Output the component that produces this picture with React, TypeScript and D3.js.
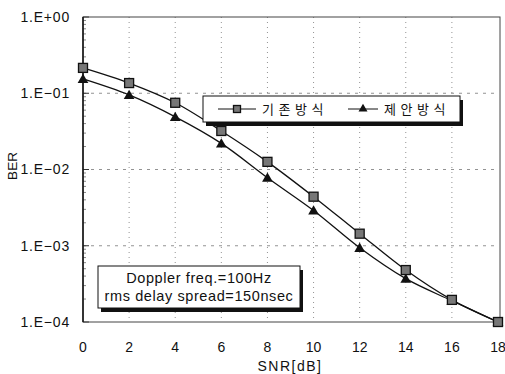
import React, { useEffect, useRef } from "react";
import * as d3 from "d3";

const snr = [0, 2, 4, 6, 8, 10, 12, 14, 16, 18];
const berConventional = [0.215, 0.136, 0.075, 0.032, 0.0126, 0.0044, 0.00144, 0.00048, 0.000195, 0.0001];
const berProposed = [0.154, 0.095, 0.049, 0.022, 0.0078, 0.0029, 0.00094, 0.00037, 0.00019, 0.0001];
const yTicks = [1, 0.1, 0.01, 0.001, 0.0001];
const yTickLabels = ["1.E+00", "1.E\u221201", "1.E\u221202", "1.E\u221203", "1.E\u221204"];
const seriesNames = ["기존방식", "제안방식"];
const noteLines = ["Doppler freq.=100Hz", "rms delay spread=150nsec"];

const App = () => {
  const ref = useRef<SVGSVGElement>(null);

  useEffect(() => {
    const svg = d3.select(ref.current);
    svg.selectAll("*").remove();
    const font = "'Liberation Sans', Arial, sans-serif";
    const kfont = "'Noto Sans CJK KR', sans-serif";

    const left = 83, right = 498, top = 17, bottom = 322;
    const x = d3.scaleLinear().domain([0, 18]).range([left, right]);
    const y = d3.scaleLog().domain([0.0001, 1]).range([bottom, top]);

    // grid
    const g = svg.append("g");
    g.selectAll(".vg")
      .data(snr.slice(1, -1))
      .enter()
      .append("line")
      .attr("x1", (d) => x(d))
      .attr("x2", (d) => x(d))
      .attr("y1", top)
      .attr("y2", bottom)
      .attr("stroke", "#777")
      .attr("stroke-width", 0.8)
      .attr("stroke-dasharray", "1,4");
    g.selectAll(".hg")
      .data(yTicks.slice(1, -1))
      .enter()
      .append("line")
      .attr("x1", left)
      .attr("x2", right)
      .attr("y1", (d) => y(d))
      .attr("y2", (d) => y(d))
      .attr("stroke", "#777")
      .attr("stroke-width", 0.8)
      .attr("stroke-dasharray", "3,5");

    // minor ticks on y axis
    const minors: number[] = [];
    for (let e = -4; e < 0; e++) for (let m = 2; m <= 9; m++) minors.push(m * Math.pow(10, e));
    g.selectAll(".mt")
      .data(minors)
      .enter()
      .append("line")
      .attr("x1", left)
      .attr("x2", left + 3)
      .attr("y1", (d) => y(d))
      .attr("y2", (d) => y(d))
      .attr("stroke", "#555")
      .attr("stroke-width", 0.7);
    g.selectAll(".Mt")
      .data(yTicks)
      .enter()
      .append("line")
      .attr("x1", left)
      .attr("x2", left + 6)
      .attr("y1", (d) => y(d))
      .attr("y2", (d) => y(d))
      .attr("stroke", "#333");

    // frame
    svg.append("rect")
      .attr("x", left)
      .attr("y", top)
      .attr("width", right + 2 - left)
      .attr("height", bottom - top)
      .attr("fill", "none")
      .attr("stroke", "#444")
      .attr("stroke-width", 1);
    svg.append("line")
      .attr("x1", left).attr("x2", left)
      .attr("y1", top).attr("y2", bottom)
      .attr("stroke", "#111").attr("stroke-width", 1.5);

    // tick labels
    svg.selectAll(".yl")
      .data(yTicks)
      .enter()
      .append("text")
      .attr("x", 70)
      .attr("y", (d) => y(d))
      .attr("dy", "0.35em")
      .attr("text-anchor", "end")
      .attr("font-family", font)
      .attr("font-size", 14)
      .attr("letter-spacing", 0.8)
      .attr("fill", "#111")
      .text((d, i) => yTickLabels[i]);
    svg.selectAll(".xl")
      .data(snr)
      .enter()
      .append("text")
      .attr("x", (d) => x(d))
      .attr("y", 347)
      .attr("dy", "0.35em")
      .attr("text-anchor", "middle")
      .attr("font-family", font)
      .attr("font-size", 14)
      .attr("fill", "#111")
      .text((d) => d);
    svg.append("text")
      .attr("x", 290)
      .attr("y", 366)
      .attr("dy", "0.35em")
      .attr("text-anchor", "middle")
      .attr("font-family", font)
      .attr("font-size", 14)
      .attr("letter-spacing", 1.5)
      .attr("fill", "#111")
      .text("SNR[dB]");
    svg.append("text")
      .attr("transform", "translate(12,166)rotate(-90)")
      .attr("dy", "0.35em")
      .attr("text-anchor", "middle")
      .attr("font-family", font)
      .attr("font-size", 13.5)
      .attr("fill", "#111")
      .text("BER");

    // lines
    const line = d3
      .line<number>()
      .x((d, i) => x(snr[i]))
      .y((d) => y(d))
      .curve(d3.curveCatmullRom.alpha(0.5));
    [berConventional, berProposed].forEach((s) => {
      svg.append("path")
        .attr("d", line(s))
        .attr("fill", "none")
        .attr("stroke", "#111")
        .attr("stroke-width", 1.3);
    });

    const tri = d3.symbol().type(d3.symbolTriangle).size(50);
    const drawSquare = (sel: any, cx: number, cy: number, s = 9) =>
      sel.append("rect")
        .attr("x", cx - s / 2)
        .attr("y", cy - s / 2)
        .attr("width", s)
        .attr("height", s)
        .attr("fill", "#777")
        .attr("stroke", "#111")
        .attr("stroke-width", 1.3);
    const drawTri = (sel: any, cx: number, cy: number, sz = 50) =>
      sel.append("path")
        .attr("d", d3.symbol().type(d3.symbolTriangle).size(sz)())
        .attr("transform", `translate(${cx},${cy + 1})`)
        .attr("fill", "#111");

    berProposed.forEach((v, i) => drawTri(svg, x(snr[i]), y(v)));
    berConventional.forEach((v, i) => drawSquare(svg, x(snr[i]), y(v)));

    // legend
    const lg = svg.append("g");
    lg.append("rect").attr("x", 206).attr("y", 100).attr("width", 257).attr("height", 26).attr("fill", "#111");
    lg.append("rect")
      .attr("x", 203).attr("y", 96).attr("width", 257).attr("height", 26)
      .attr("fill", "#fff").attr("stroke", "#111").attr("stroke-width", 1);
    lg.append("line").attr("x1", 218).attr("x2", 256).attr("y1", 109).attr("y2", 109).attr("stroke", "#111").attr("stroke-width", 1);
    drawSquare(lg, 237, 109, 7);
    lg.append("text")
      .attr("x", 262).attr("y", 109).attr("dy", "0.35em")
      .attr("font-family", kfont).attr("font-size", 13).attr("letter-spacing", 4.5).attr("fill", "#111")
      .text(seriesNames[0]);
    lg.append("line").attr("x1", 348).attr("x2", 378).attr("y1", 109).attr("y2", 109).attr("stroke", "#111").attr("stroke-width", 1);
    drawTri(lg, 363, 108, 35);
    lg.append("text")
      .attr("x", 384).attr("y", 109).attr("dy", "0.35em")
      .attr("font-family", kfont).attr("font-size", 13).attr("letter-spacing", 4.5).attr("fill", "#111")
      .text(seriesNames[1]);

    // note box
    const nb = svg.append("g");
    nb.append("rect").attr("x", 101).attr("y", 270).attr("width", 202).attr("height", 42).attr("fill", "#111");
    nb.append("rect")
      .attr("x", 98).attr("y", 266).attr("width", 202).attr("height", 42)
      .attr("fill", "#fff").attr("stroke", "#111").attr("stroke-width", 1);
    nb.selectAll("text")
      .data(noteLines)
      .enter()
      .append("text")
      .attr("x", 199)
      .attr("y", (d, i) => 278 + i * 18)
      .attr("dy", "0.35em")
      .attr("text-anchor", "middle")
      .attr("font-family", font)
      .attr("font-size", 14.5)
      .attr("letter-spacing", 0.6)
      .attr("fill", "#111")
      .text((d) => d);
  }, []);

  return (
    <svg
      ref={ref}
      width={505}
      height={374}
      style={{ position: "absolute", left: 0, top: 0, background: "#fff" }}
    ></svg>
  );
};

export default App;
